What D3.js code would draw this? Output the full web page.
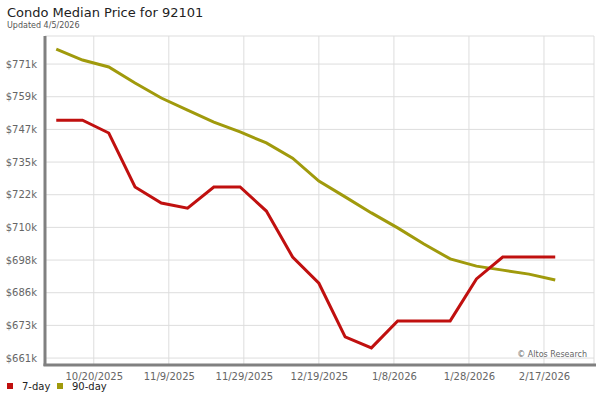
<!DOCTYPE html>
<html><head><meta charset="utf-8">
<script src="https://cdn.jsdelivr.net/npm/d3@7"></script>
<style>body{margin:0;background:#fff}svg{font-family:"DejaVu Sans",sans-serif}</style>
</head><body><svg id="c" width="600" height="400"></svg>
<script>
const dates = ["2025-10-10","2025-10-17","2025-10-24","2025-10-31","2025-11-07","2025-11-14","2025-11-21","2025-11-28","2025-12-05","2025-12-12","2025-12-19","2025-12-26","2026-01-02","2026-01-09","2026-01-16","2026-01-23","2026-01-30","2026-02-06","2026-02-13","2026-02-20"];
const day7 = [750.0,750.0,745.2,725.0,719.0,717.1,725.0,725.0,716.0,698.8,689.0,668.9,664.8,674.9,674.9,674.9,690.6,698.8,698.8,698.8];
const day90 = [776.6,772.5,769.9,763.9,758.3,753.8,749.3,745.6,741.5,735.8,727.2,721.3,715.3,709.7,703.7,698.1,695.4,693.9,692.4,690.2];
const yTickLabels = ["$661k","$673k","$686k","$698k","$710k","$722k","$735k","$747k","$759k","$771k"];
const xTickDates = ["2025-10-20","2025-11-09","2025-11-29","2025-12-19","2026-01-08","2026-01-28","2026-02-17"];
const xTickLabels = ["10/20/2025","11/9/2025","11/29/2025","12/19/2025","1/8/2026","1/28/2026","2/17/2026"];

const svg = d3.select("#c");
const L=45,R=594,T=36,B=365;
const pd = d3.utcParse("%Y-%m-%d");
const x = d3.scaleUtc().domain([pd("2025-10-07"), new Date(Date.UTC(2026,2,2,8))]).range([L,R]);
const y = d3.scaleLinear().domain([658.4,781.5]).range([B,T]);
const yt = d3.range(yTickLabels.length).map(i=>661+i*110/9);

svg.append("text").attr("x",7).attr("y",17).attr("font-size",13).attr("fill","#222").text("Condo Median Price for 92101");
svg.append("text").attr("x",7).attr("y",28).attr("font-size",8).attr("fill","#555").text("Updated 4/5/2026");

const g = svg.append("g");
g.selectAll(".hy").data(yt).join("line").attr("x1",L).attr("x2",R).attr("y1",d=>y(d)).attr("y2",d=>y(d)).attr("stroke","#ddd");
g.selectAll(".vx").data(xTickDates).join("line").attr("y1",T).attr("y2",B).attr("x1",d=>x(pd(d))).attr("x2",d=>x(pd(d))).attr("stroke","#ddd");
g.append("line").attr("x1",L).attr("x2",R).attr("y1",T).attr("y2",T).attr("stroke","#ddd");
g.append("line").attr("x1",R).attr("x2",R).attr("y1",T).attr("y2",B).attr("stroke","#ddd");

const yAxis = d3.axisLeft(y).tickValues(yt).tickSize(0).tickPadding(6).tickFormat((d,i)=>yTickLabels[i]);
const ya = svg.append("g").attr("transform",`translate(${L-2},0)`).call(yAxis);
ya.select(".domain").remove();
ya.selectAll("text").attr("font-size",10).attr("fill","#666").attr("font-family","DejaVu Sans");
const xAxis = d3.axisBottom(x).tickValues(xTickDates.map(pd)).tickSize(0).tickPadding(8).tickFormat((d,i)=>xTickLabels[i]);
const xa = svg.append("g").attr("transform",`translate(0,${B})`).call(xAxis);
xa.select(".domain").remove();
xa.selectAll("text").attr("font-size",10).attr("fill","#666").attr("font-family","DejaVu Sans");

svg.append("line").attr("x1",L).attr("x2",L).attr("y1",T).attr("y2",B+1).attr("stroke","#808080").attr("stroke-width",3);
svg.append("line").attr("x1",L-1.5).attr("x2",R+2).attr("y1",B).attr("y2",B).attr("stroke","#808080").attr("stroke-width",3);

const line = d3.line().x((d,i)=>x(pd(dates[i]))).y(d=>y(d));
svg.append("path").datum(day90).attr("d",line).attr("fill","none").attr("stroke","#a09a0c").attr("stroke-width",3);
svg.append("path").datum(day7).attr("d",line).attr("fill","none").attr("stroke","#c0100f").attr("stroke-width",3);

svg.append("text").attr("x",587).attr("y",357).attr("text-anchor","end").attr("font-size",8).attr("fill","#666").text("© Altos Research");

const leg=[["7-day","#c0100f",7],["90-day","#a09a0c",57]];
leg.forEach(([t,c,lx])=>{
  svg.append("rect").attr("x",lx).attr("y",383).attr("width",6).attr("height",6).attr("fill",c);
  svg.append("text").attr("x",lx+15).attr("y",390).attr("font-size",10).attr("fill","#222").text(t);
});
</script></body></html>
